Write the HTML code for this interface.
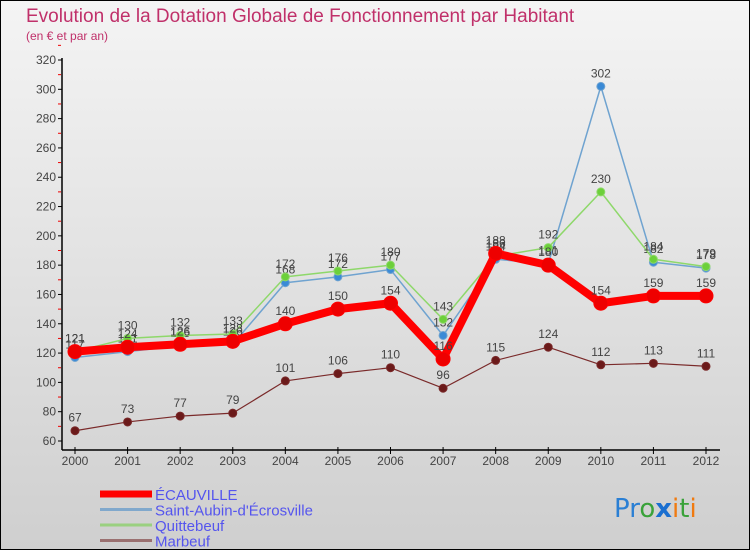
<!DOCTYPE html>
<html><head><meta charset="utf-8"><style>
body{margin:0;}
#c{width:750px;height:550px;position:relative;overflow:hidden;font-family:"Liberation Sans",sans-serif;}
</style></head><body>
<div id="c">
<svg id="s" width="750" height="550" xmlns="http://www.w3.org/2000/svg">
<defs><linearGradient id="bg" x1="0" y1="0" x2="0" y2="1"><stop offset="0" stop-color="#f4f4f4"/><stop offset="1" stop-color="#cfcfcf"/></linearGradient></defs>
<rect x="0.5" y="0.5" width="749" height="549" fill="url(#bg)" stroke="#000"/>
<text x="26" y="22" font-size="19" fill="#c0306a">Evolution de la Dotation Globale de Fonctionnement par Habitant</text>
<text x="26" y="40" font-size="12" fill="#c0306a">(en € et par an)</text>
<g id="axes"></g><g id="series"></g><g id="legend"></g>
<text x="614" y="517" font-size="26" font-family="'DejaVu Sans',sans-serif"><tspan fill="#2a7fd4">Pr</tspan><tspan fill="#3aa23a">o</tspan><tspan fill="#1a6fd0" font-weight="bold">x</tspan><tspan fill="#f07a10">i</tspan><tspan fill="#3aa23a">t</tspan><tspan fill="#f07a10">i</tspan></text>
</svg></div>
<script>
const years=[2000,2001,2002,2003,2004,2005,2006,2007,2008,2009,2010,2011,2012];
const ecauville=[121,124,126,128,140,150,154,116,188,180,154,159,159];
const saintAubin=[117,121,125,126,168,172,177,132,184,181,302,182,178];
const quittebeuf=[121,130,132,133,172,176,180,143,186,192,230,184,179];
const marbeuf=[67,73,77,79,101,106,110,96,115,124,112,113,111];
const yTicks=[60,80,100,120,140,160,180,200,220,240,260,280,300,320];
const NS="http://www.w3.org/2000/svg";
const x=i=>75+i*(706-75)/12;
const y=v=>441-(v-60)*(441-60)/260;
function mk(tag,at,parent){const e=document.createElementNS(NS,tag);for(const k in at)e.setAttribute(k,at[k]);parent.appendChild(e);return e;}
const ax=document.getElementById('axes');
let a=mk('line',{x1:62,y1:58,x2:62,y2:450,stroke:'#000','stroke-width':1.5},ax);


a=mk('line',{x1:62,y1:450,x2:720,y2:450,stroke:'#000','stroke-width':1.5},ax);


yTicks.forEach(v=>{
 mk('line',{x1:58,y1:y(v),x2:62,y2:y(v),stroke:'#000'},ax);
 mk('line',{x1:58,y1:y(v+10),x2:61,y2:y(v+10),stroke:'#e00'},ax);
 const t=mk('text',{x:56,y:y(v)+4,'font-size':12,fill:'#444','text-anchor':'end'},ax);t.textContent=v;
 
 
});
years.forEach((yr,i)=>{
 mk('line',{x1:x(i),y1:447,x2:x(i),y2:454,stroke:'#000'},ax);
 const t=mk('text',{x:x(i),y:465,'font-size':12,fill:'#444','text-anchor':'middle'},ax);t.textContent=yr;
 
 
});
const sg=document.getElementById('series');
function series(data,color,w,r,name,fill){
 const g=mk('g',{},sg);
 
 
 mk('polyline',{points:data.map((v,i)=>x(i)+','+y(v)).join(' '),fill:'none',stroke:color,'stroke-width':w,'stroke-linejoin':'round'},g);
 data.forEach((v,i)=>{
  const c=mk('circle',{cx:x(i),cy:y(v),r:r,fill:fill,stroke:color,'stroke-width':1},g);
  
  
  const t=mk('text',{x:x(i),y:y(v)-9,'font-size':12,fill:'#444','text-anchor':'middle'},g);t.textContent=v;
  
  
 });
}
series(marbeuf,'#7a2a2a',1.2,4,'marbeuf','#6b1a1a');
series(saintAubin,'#6fa3d0',1.5,4,'saint-aubin','#3a8ad6');
series(quittebeuf,'#8ed86a',1.5,4,'quittebeuf','#6cd03a');
series(ecauville,'#ff0000',8,7,'ecauville','#ee0000');
const lg=document.getElementById('legend');
[['ÉCAUVILLE','#ff0000',7],['Saint-Aubin-d\'Écrosville','#80a8cc',3],['Quittebeuf','#9ad080',3],['Marbeuf','#9a7070',3]].forEach((e,i)=>{
 const yy=494+i*15.5;
 const g=mk('g',{},lg);
 
 
 mk('line',{x1:100,y1:yy,x2:152,y2:yy,stroke:e[1],'stroke-width':e[2]},g);
 const t=mk('text',{x:155,y:yy+6,'font-size':15,fill:'#5555ee'},g);t.textContent=e[0];
});
</script>
</body></html>
